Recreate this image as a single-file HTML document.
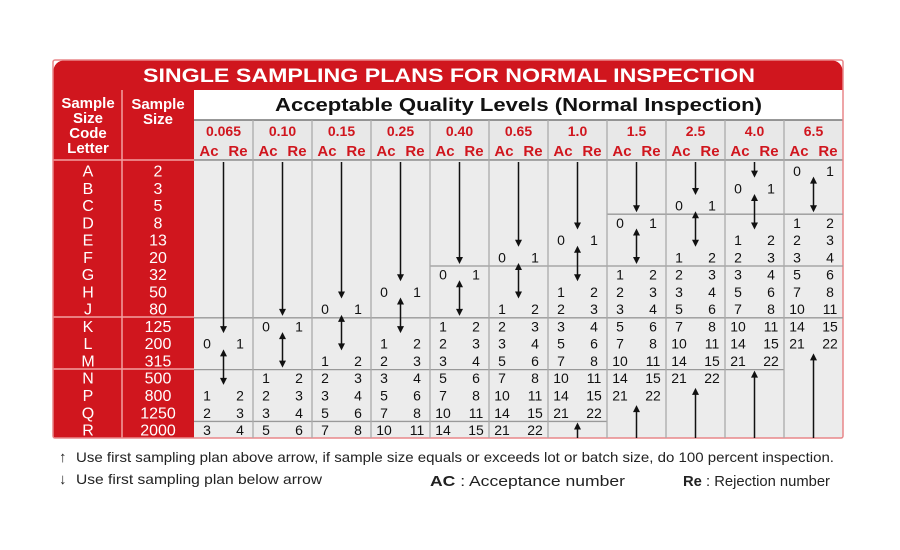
<!DOCTYPE html>
<html><head><meta charset="utf-8"><style>
html,body{margin:0;padding:0;background:#fff;width:900px;height:550px;overflow:hidden}
svg{display:block;font-family:"Liberation Sans",sans-serif}
</style></head><body>
<svg id="chart" width="900" height="550" viewBox="0 0 900 550" xmlns="http://www.w3.org/2000/svg">
<rect x="0" y="0" width="900" height="550" fill="#fff"/>
<path d="M53,90 L53,74 Q53,60 67,60 L829,60 Q843,60 843,74 L843,90 Z" fill="#d0161e"/>
<text x="143" y="82" font-size="19" font-weight="bold" fill="#fff" textLength="612" lengthAdjust="spacingAndGlyphs">SINGLE SAMPLING PLANS FOR NORMAL INSPECTION</text>
<rect x="53" y="90" width="69" height="348" fill="#d0161e"/>
<rect x="122" y="90" width="72" height="348" fill="#d0161e"/>
<line x1="122" y1="90" x2="122" y2="438" stroke="#f3a0a0" stroke-width="1.5"/>
<line x1="53" y1="160" x2="194" y2="160" stroke="#f3a0a0" stroke-width="1.5"/>
<line x1="53" y1="317" x2="194" y2="317" stroke="#f3a0a0" stroke-width="1.5"/>
<line x1="53" y1="369" x2="194" y2="369" stroke="#f3a0a0" stroke-width="1.5"/>
<g fill="#fff" font-weight="bold" font-size="15" text-anchor="middle">
<text x="88" y="108">Sample</text><text x="88" y="123">Size</text><text x="88" y="138">Code</text><text x="88" y="153">Letter</text></g>
<g fill="#fff" font-weight="bold" font-size="15" text-anchor="middle">
<text x="158" y="109">Sample</text><text x="158" y="124">Size</text></g>
<rect x="194" y="90" width="649" height="30" fill="#fff"/>
<text x="275" y="111" font-size="18" font-weight="bold" fill="#111" textLength="487" lengthAdjust="spacingAndGlyphs">Acceptable Quality Levels (Normal Inspection)</text>
<rect x="194" y="120" width="649" height="40" fill="#e8e8e8"/>
<line x1="194" y1="120" x2="843" y2="120" stroke="#777" stroke-width="1.5"/>
<line x1="194" y1="160" x2="843" y2="160" stroke="#888" stroke-width="1.5"/>
<rect x="194" y="161" width="649" height="277" fill="#ececec"/>
<rect x="53" y="60" width="790" height="378" fill="none" stroke="#e8878a" stroke-width="1.5" rx="2"/>
<g id="grid"></g>
<g font-size="14" fill="#222">
<text x="59" y="462" font-size="15">↑</text>
<text x="76" y="462" textLength="758" lengthAdjust="spacingAndGlyphs">Use first sampling plan above arrow, if sample size equals or exceeds lot or batch size, do 100 percent inspection.</text>
<text x="59" y="484" font-size="15">↓</text>
<text x="76" y="484" textLength="246" lengthAdjust="spacingAndGlyphs">Use first sampling plan below arrow</text>
<text x="430" y="486" font-size="15" textLength="195" lengthAdjust="spacingAndGlyphs"><tspan font-weight="bold">AC</tspan> : Acceptance number</text>
<text x="683" y="486" font-size="15" textLength="147" lengthAdjust="spacingAndGlyphs"><tspan font-weight="bold">Re</tspan> : Rejection number</text>
</g>
</svg>
<script>
const aqlLabels = ["0.065","0.10","0.15","0.25","0.40","0.65","1.0","1.5","2.5","4.0","6.5"];
const codeLetters = ["A","B","C","D","E","F","G","H","J","K","L","M","N","P","Q","R"];
const sampleSizes = ["2","3","5","8","13","20","32","50","80","125","200","315","500","800","1250","2000"];
const acceptNumbers = [0,1,2,3,5,7,10,14,21];
const rejectNumbers = [1,2,3,4,6,8,11,15,22];
const firstPlanRow = [10,9,8,7,6,5,4,3,2,1,0];

const NS="http://www.w3.org/2000/svg";
const svg=document.getElementById('chart');
const g=document.getElementById('grid');
const X0=194, CW=(843-194)/11, RY0=171, RH=17.27;
const colX=c=>X0+c*CW;
const rowY=r=>RY0+r*RH;
const rowTop=r=>rowY(r)-8.6;
function mk(tag,attrs,parent){const e=document.createElementNS(NS,tag);for(const k in attrs)e.setAttribute(k,attrs[k]);(parent||g).appendChild(e);return e;}
function txt(x,y,s,attrs,parent){const e=mk('text',Object.assign({x:x,y:y},attrs),parent);e.textContent=s;return e;}
function head(x,y,dir){const d=dir>0?`M${x-3.5},${y-7} L${x+3.5},${y-7} L${x},${y} Z`:`M${x-3.5},${y+7} L${x+3.5},${y+7} L${x},${y} Z`;return mk('path',{d:d,fill:'#111'});}
function arrowLine(x,y1,y2,name){const l=mk('line',{x1:x,y1:y1,x2:x,y2:y2,stroke:'#111','stroke-width':1.5});return l;}

codeLetters.forEach((c,i)=>{const t=txt(88,rowY(i)+5.5,c,{'text-anchor':'middle','font-size':16,fill:'#fff'},svg);

});
sampleSizes.forEach((s,i)=>{const t=txt(158,rowY(i)+5.5,s,{'text-anchor':'middle','font-size':16,fill:'#fff'},svg);

});

const hl=(r,c1,c2)=>mk('line',{x1:colX(c1),y1:rowTop(r),x2:colX(c2+1),y2:rowTop(r),stroke:'#999','stroke-width':1.3});
hl(9,0,10); hl(12,0,9); hl(15,0,6); hl(6,4,10); hl(3,7,10);
for(let c=1;c<11;c++) mk('line',{x1:colX(c),y1:120,x2:colX(c),y2:438,stroke:'#aaa','stroke-width':1.3});

aqlLabels.forEach((lab,c)=>{
  const cx=colX(c)+CW/2;
  const h=txt(cx,136,lab,{'text-anchor':'middle','font-size':14,'font-weight':'bold',fill:'#d0161e'});
  
  
  txt(colX(c)+15,156,'Ac',{'text-anchor':'middle','font-size':15,'font-weight':'bold',fill:'#d0161e'});
  txt(colX(c)+44,156,'Re',{'text-anchor':'middle','font-size':15,'font-weight':'bold',fill:'#d0161e'});
  const r0=firstPlanRow[c];
  if(r0>0){ const tip=rowTop(r0)-2; arrowLine(cx,162,tip-5,'down-arrow-'+lab); head(cx,tip,1); }
  let lastRow=-1;
  acceptNumbers.forEach((a,i)=>{
    const r = i===0 ? r0 : r0+2+i;
    if(r>15) return;
    lastRow=r;
    const ta=txt(colX(c)+13,rowY(r)+5,String(a),{'text-anchor':'middle','font-size':14,fill:'#111'});
    
    
    const tr=txt(colX(c)+46,rowY(r)+5,String(rejectNumbers[i]),{'text-anchor':'middle','font-size':14,fill:'#111'});
    
    
  });
  const d1=rowTop(r0+1)-3, d2=rowTop(r0+3)-2;
  arrowLine(cx,d1+6,d2-6,'double-arrow-'+lab); head(cx,d1,-1); head(cx,d2,1);
  if(lastRow<15){ const tip=rowTop(lastRow+1)+1; arrowLine(cx,tip+6,438,'up-arrow-'+lab); head(cx,tip,-1); }
});
</script>
</body></html>
